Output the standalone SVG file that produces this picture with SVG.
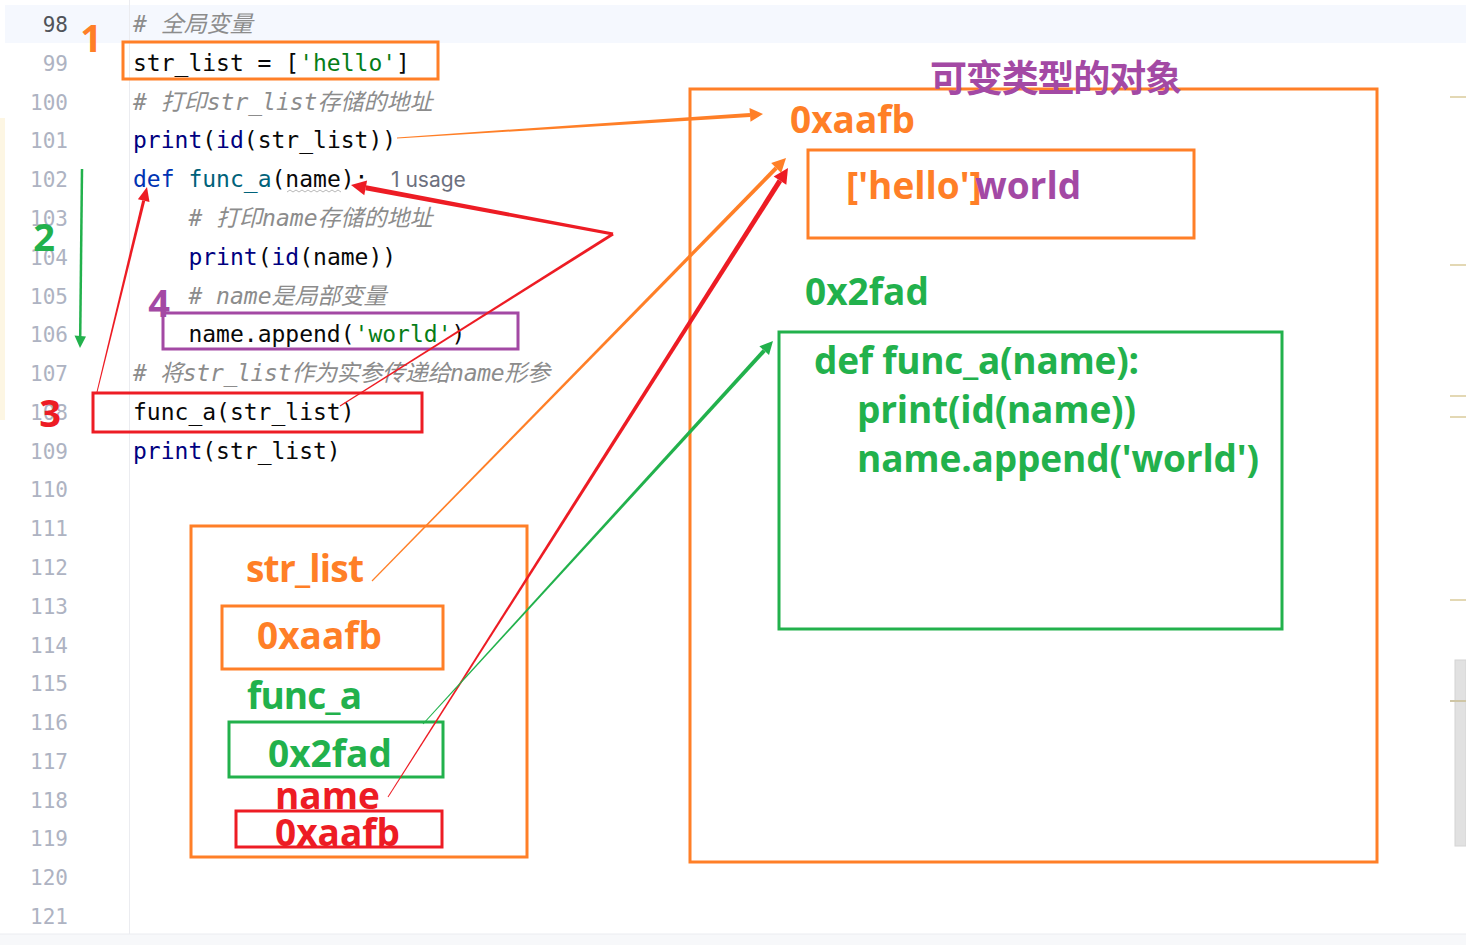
<svg xmlns="http://www.w3.org/2000/svg" width="1466" height="945" viewBox="0 0 1466 945">
<style>
.code{font-family:"DejaVu Sans Mono","Noto Sans CJK SC",monospace;font-size:23px;fill:#080808}
.cm{font-style:italic;fill:#8c8c8c}
.kw{fill:#0033b3}
.bi{fill:#000080}
.fn{fill:#00627a}
.st{fill:#067d17}
.ln{font-family:"DejaVu Sans Mono",monospace;font-size:21px;fill:#aeb3c2;text-anchor:end}
.big{font-family:"Open Sans","Noto Sans CJK SC",sans-serif;font-weight:bold;font-size:37px}
.num{font-family:"Open Sans",sans-serif;font-weight:bold;font-size:38px;text-anchor:middle}
.o{fill:#ff7f27}.g{fill:#22b14c}.r{fill:#ed1c24}.p{fill:#a349a4}
.bo{fill:none;stroke:#ff7f27;stroke-width:3}
.bg{fill:none;stroke:#22b14c;stroke-width:3}
.br{fill:none;stroke:#ed1c24;stroke-width:3}
.bp{fill:none;stroke:#a349a4;stroke-width:3}
</style>
<g id="editor">
<rect x="0" y="0" width="1466" height="945" fill="#ffffff"/>
<rect x="5" y="5" width="1461" height="38" fill="#f5f8fe"/>
<rect x="0" y="118" width="5" height="302" fill="#fdf6e3"/>
<line x1="129.5" y1="0" x2="129.5" y2="934" stroke="#ebecf0" stroke-width="1"/>
<rect x="0" y="934" width="1466" height="11" fill="#f7f8fa"/>
<line x1="0" y1="934" x2="1466" y2="934" stroke="#ebecf0" stroke-width="1"/>
<g fill="#e3d8b4">
<rect x="1450" y="96" width="16" height="2"/>
<rect x="1450" y="264" width="16" height="2"/>
<rect x="1450" y="395" width="16" height="2"/>
<rect x="1450" y="416" width="16" height="2"/>
<rect x="1450" y="599" width="16" height="2"/>
</g>
<rect x="1455" y="660" width="11" height="186" fill="#e1e1e1" stroke="#d4d4d4" stroke-width="1"/>
<rect x="1450" y="700" width="16" height="2" fill="#cfc6a6"/>
</g>
<g id="line-numbers">
<text class="ln" x="68" y="32" style="fill:#505359">98</text>
<text class="ln" x="68" y="70.8">99</text>
<text class="ln" x="68" y="109.6">100</text>
<text class="ln" x="68" y="148.3">101</text>
<text class="ln" x="68" y="187.1">102</text>
<text class="ln" x="68" y="225.9">103</text>
<text class="ln" x="68" y="264.7">104</text>
<text class="ln" x="68" y="303.5">105</text>
<text class="ln" x="68" y="342.2">106</text>
<text class="ln" x="68" y="381">107</text>
<text class="ln" x="68" y="419.8">108</text>
<text class="ln" x="68" y="458.6">109</text>
<text class="ln" x="68" y="497.4">110</text>
<text class="ln" x="68" y="536.1">111</text>
<text class="ln" x="68" y="574.9">112</text>
<text class="ln" x="68" y="613.7">113</text>
<text class="ln" x="68" y="652.5">114</text>
<text class="ln" x="68" y="691.3">115</text>
<text class="ln" x="68" y="730.1">116</text>
<text class="ln" x="68" y="768.8">117</text>
<text class="ln" x="68" y="807.6">118</text>
<text class="ln" x="68" y="846.4">119</text>
<text class="ln" x="68" y="885.2">120</text>
<text class="ln" x="68" y="924">121</text>
</g>
<g id="code">
<text class="code cm" x="133" y="32"># 全局变量</text>
<text class="code" x="133" y="70.8">str_list = [<tspan class="st">'hello'</tspan>]</text>
<text class="code cm" x="133" y="109.6"># 打印str_list存储的地址</text>
<text class="code" x="133" y="148.3"><tspan class="bi">print</tspan>(<tspan class="bi">id</tspan>(str_list))</text>
<text class="code" x="133" y="187.1"><tspan class="kw">def</tspan> <tspan class="fn">func_a</tspan>(name):</text>
<text x="391" y="187" font-family="Inter,'Noto Sans',sans-serif" font-size="21" fill="#6c707e">1 usage</text>
<path d="M287,192 l3,-2 l3,2 l3,-2 l3,2 l3,-2 l3,2 l3,-2 l3,2 l3,-2 l3,2 l3,-2 l3,2 l3,-2 l3,2 l3,-2 l3,2 l3,-2 l3,2" fill="none" stroke="#b8b8b8" stroke-width="1"/>
<text class="code cm" x="188.4" y="225.9"># 打印name存储的地址</text>
<text class="code" x="188.4" y="264.7"><tspan class="bi">print</tspan>(<tspan class="bi">id</tspan>(name))</text>
<text class="code cm" x="188.4" y="303.5"># name是局部变量</text>
<text class="code" x="188.4" y="342.2">name.append(<tspan class="st">'world'</tspan>)</text>
<text class="code cm" x="133" y="381" textLength="417"># 将str_list作为实参传递给name形参</text>
<text class="code" x="133" y="419.8">func_a(str_list)</text>
<text class="code" x="133" y="458.6"><tspan class="bi">print</tspan>(str_list)</text>
</g>
<g id="step1">
<rect class="bo" x="123" y="42" width="315" height="37"/>
<text class="num o" x="91" y="52">1</text>
</g>
<g id="step2">
<text class="num g" x="44" y="251">2</text>
</g>
<g id="step3">
<rect class="br" x="93" y="393" width="329" height="39"/>
<text class="num r" x="50" y="427">3</text>
</g>
<g id="step4">
<rect class="bp" x="163" y="313" width="355" height="36"/>
<text class="num p" x="159" y="317">4</text>
</g>
<g id="stack-frame">
<rect class="bo" x="191" y="526" width="336" height="331"/>
<text class="big o" x="246" y="582" textLength="118">str_list</text>
<rect class="bo" x="222" y="606" width="221" height="63"/>
<text class="big o" x="257" y="649">0xaafb</text>
<text class="big g" x="247" y="709" textLength="115">func_a</text>
<rect class="bg" x="229" y="722" width="214" height="55"/>
<text class="big g" x="268" y="767">0x2fad</text>
<text class="big r" x="275" y="809">name</text>
<rect class="br" x="236" y="811" width="206" height="36"/>
<text class="big r" x="275" y="846">0xaafb</text>
</g>
<g id="heap">
<rect class="bo" x="690" y="89" width="687" height="773"/>
<text class="big p" x="930" y="92" font-size="35" textLength="252">可变类型的对象</text>
<text class="big o" x="790" y="133">0xaafb</text>
</g>
<g id="list-object">
<rect class="bo" x="808" y="150" width="386" height="88"/>
<text class="big o" x="846" y="199">['hello']</text>
<text class="big p" x="975" y="199">world</text>
</g>
<g id="function-object">
<text class="big g" x="805" y="305">0x2fad</text>
<rect class="bg" x="779" y="332" width="503" height="297"/>
<text class="big g" x="814" y="374" textLength="325">def func_a(name):</text>
<text class="big g" x="857" y="423" textLength="279">print(id(name))</text>
<text class="big g" x="857" y="472" textLength="402">name.append('world')</text>
</g>
<g id="connectors">
<polygon class="o" points="397,137.5 749.9,112.9 750.1,116.9 397,138.5"/>
<polygon class="o" points="763,114 750.5,121.8 749.5,107.9"/>
<polygon class="o" points="372.4,581.4 777.6,169.4 774.8,166.6 371.6,580.6"/>
<polygon class="o" points="786,158 781.2,172.9 771.2,163.1"/>
<polygon class="r" points="388.4,797.3 782.1,182.0 777.8,179.3 387.6,796.7"/>
<polygon class="r" points="788,168 786.3,184.7 773.7,176.6"/>
<polygon class="g" points="423.4,724.3 765.7,352.0 762.7,349.3 422.6,723.7"/>
<polygon class="g" points="773,341 769.0,355.0 759.4,346.2"/>
<polygon class="r" points="340.3,406.4 613.8,235.3 612.2,232.7 339.7,405.6"/>
<polygon class="r" points="613.3,232.5 366.2,185.3 365.3,190.2 612.7,235.5"/>
<polygon class="r" points="351,185 367.1,180.4 364.3,195.2"/>
<polygon class="r" points="97.5,392.1 145.2,201.0 142.2,200.2 96.5,391.9"/>
<polygon class="r" points="147,187 149.5,202.0 137.9,199.2"/>
<line x1="82" y1="169" x2="80.2" y2="337" stroke="#22b14c" stroke-width="2.5"/>
<polygon class="g" points="80,348 74.5,335.5 86,336.5"/>
</g>
</svg>
